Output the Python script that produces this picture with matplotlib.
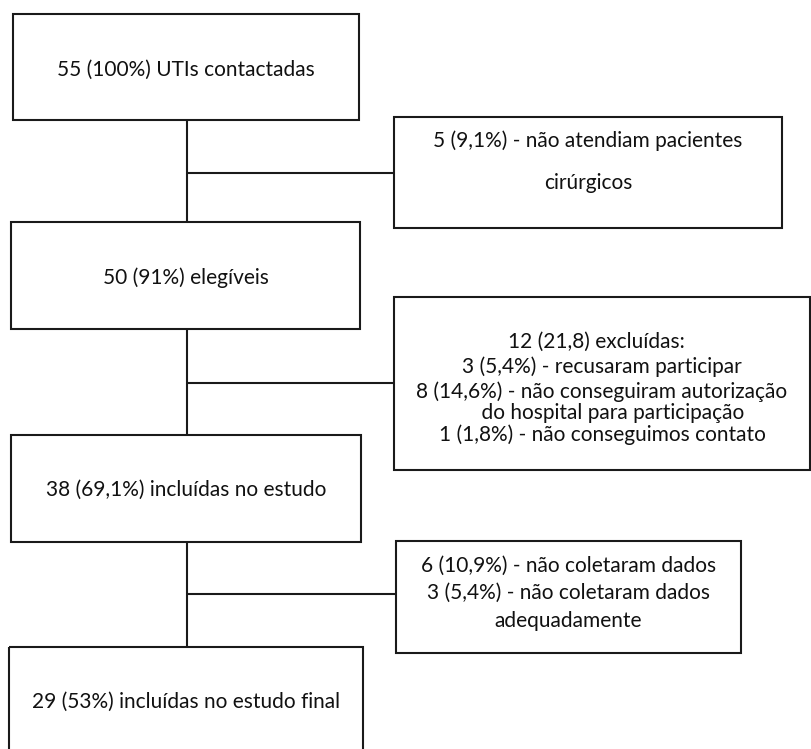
import matplotlib
matplotlib.use("Agg")
import matplotlib.pyplot as plt
from matplotlib.patches import Rectangle

# Flowchart content
main_texts = [
    "55 (100%) UTIs contactadas",
    "50 (91%) elegíveis",
    "38 (69,1%) incluídas no estudo",
    "29 (53%) incluídas no estudo final",
]
side_texts = [
    ["5 (9,1%) - não atendiam pacientes", "cirúrgicos"],
    ["12 (21,8) excluídas:  ", "3 (5,4%) - recusaram participar",
     "8 (14,6%) - não conseguiram autorização", "    do hospital para participação",
     "1 (1,8%) - não conseguimos contato"],
    ["6 (10,9%) - não coletaram dados", "3 (5,4%) - não coletaram dados",
     "adequadamente"],
]

# Layout (pixel units, y downward)
main_boxes = [(13, 14, 359, 120), (11, 222, 360, 329), (11, 435, 361, 542), (9, 647, 363, 770)]
main_text_y = [70, 278, 490, 702]
side_boxes = [(394, 117, 782, 228), (394, 297, 810, 470), (396, 541, 741, 653)]
side_line_y = [[141, 183], [342, 367, 392, 413, 435], [566, 593, 621]]
branch_y = [173, 383, 594]
spine_x = 186.5

W, H = 811, 749
fig = plt.figure(figsize=(W / 100, H / 100), dpi=100)
ax = fig.add_axes([0, 0, 1, 1])
ax.set_xlim(0, W)
ax.set_ylim(H, 0)
ax.axis("off")

lc = "#1a1a1a"
lw = 1.5
font = "Lato"
fs = 15

for (x0, y0, x1, y1), txt, ty in zip(main_boxes, main_texts, main_text_y):
    ax.add_patch(Rectangle((x0, y0), x1 - x0, y1 - y0, fill=False, ec=lc, lw=lw))
    ax.text((x0 + x1) / 2, ty, txt, ha="center", va="center", fontsize=fs,
            family=font, color="#111111")

for (x0, y0, x1, y1), lines, ys in zip(side_boxes, side_texts, side_line_y):
    ax.add_patch(Rectangle((x0, y0), x1 - x0, y1 - y0, fill=False, ec=lc, lw=lw))
    for ln, ty in zip(lines, ys):
        ax.text((x0 + x1) / 2, ty, ln, ha="center", va="center", fontsize=fs,
                family=font, color="#111111")

# connectors
for i in range(3):
    top = main_boxes[i][3]
    bot = main_boxes[i + 1][1]
    ax.plot([spine_x, spine_x], [top, bot], color=lc, lw=lw, solid_capstyle="butt")
    ax.plot([spine_x, side_boxes[i][0]], [branch_y[i], branch_y[i]], color=lc, lw=lw,
            solid_capstyle="butt")

fig.savefig("out.png", dpi=100, facecolor="white")
